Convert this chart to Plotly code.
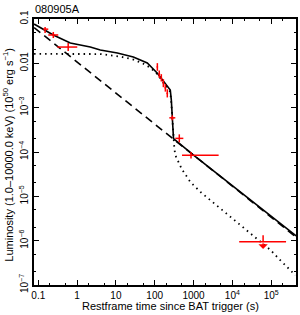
import numpy as np
import plotly.graph_objects as go

# ---- data ----
# model curves (time in s, luminosity in 1e50 erg/s)
solid_t = [0.078, 0.151, 0.244, 0.668, 2.19, 3.96, 10.9, 28.1, 64.4, 117, 187, 252, 268, 305, 1000, 1.0e4, 4.4e5]
solid_L = [0.077, 0.0565, 0.0436, 0.0287, 0.0233, 0.020, 0.0171, 0.0139, 0.0102, 0.0060, 0.00359, 0.00249, 0.00148, 2.0e-4, 8.5e-5, 1.77e-5, 1.28e-6]

dashed_t = [0.078, 4.4e5]
dashed_L = [0.064, 1.2e-6]

dotted_t = [0.078, 1.0, 4.0, 13, 28, 51, 77, 117, 187, 252, 268, 300, 320, 339, 500, 830, 1500, 3000,
            5430, 9800, 1.78e4, 3.24e4, 5.25e4, 9.5e4, 1.73e5, 2.8e5, 4.2e5]
dotted_L = [0.0163, 0.0165, 0.0162, 0.0142, 0.0122, 0.0098, 0.0080, 0.0057, 0.0033, 0.00227, 0.00126,
            2.5e-4, 1.23e-4, 8.5e-5, 4.1e-5, 2.1e-5, 1.26e-5, 7.6e-6, 4.9e-6, 3.2e-6, 2.04e-6, 1.33e-6,
            9.3e-7, 6.2e-7, 3.6e-7, 2.3e-7, 1.66e-7]

# data points
pt_t = [0.15, 0.244, 0.59, 117, 131, 148, 167, 188, 211, 284, 430, 861]
pt_tlo = [0.135, 0.181, 0.31, 112, 125, 141, 159, 179, 201, 238, 339, 505]
pt_thi = [0.181, 0.327, 1.01, 122, 138, 155, 175, 197, 221, 339, 546, 4436]
pt_L = [0.059, 0.0436, 0.0233, 0.0083, 0.0057, 0.0047, 0.0036, 0.0028, 0.0021, 5.9e-4, 2.03e-4, 8.5e-5]
pt_Llo = [0.0483, 0.0372, 0.019, 0.0068, 0.0047, 0.0039, 0.0029, 0.0023, 0.0017, 5.2e-4, 1.66e-4, 7.1e-5]
pt_Lhi = [0.066, 0.051, 0.0287, 0.0101, 0.0069, 0.0057, 0.0044, 0.0034, 0.0026, 6.7e-4, 2.5e-4, 1.0e-4]

# upper limit
ul_t = [6.2e4]
ul_tlo = [1.5e4]
ul_thi = [2.42e5]
ul_L = [9.4e-7]
ul_Ltop = [1.33e-6]
ul_Ltip = [6.5e-7]

xtick_vals = [0.1, 1, 10, 100, 1000, 1e4, 1e5]
xtick_text = ["0.1", "1", "10", "100", "1000", "10<sup>4</sup>", "10<sup>5</sup>"]
ytick_vals = [1e-7, 1e-6, 1e-5, 1e-4, 1e-3, 1e-2, 1e-1]
ytick_text = ["10<sup>−7</sup>", "10<sup>−6</sup>", "10<sup>−5</sup>", "10<sup>−4</sup>", "10<sup>−3</sup>", "0.01", "0.1"]

RED = "#ff0000"
FONT = "Liberation Sans, Arial, Helvetica, sans-serif"

fig = go.Figure()

fig.add_trace(go.Scatter(x=dashed_t, y=dashed_L, mode="lines",
                         line=dict(color="black", width=1.6, dash="8px,5px"), hoverinfo="skip"))
fig.add_trace(go.Scatter(x=dotted_t, y=dotted_L, mode="lines",
                         line=dict(color="black", width=1.8, dash="1.5px,4px"), hoverinfo="skip"))
fig.add_trace(go.Scatter(x=solid_t, y=solid_L, mode="lines",
                         line=dict(color="black", width=1.6), hoverinfo="skip"))

fig.add_trace(go.Scatter(
    x=pt_t, y=pt_L, mode="markers", marker=dict(size=1, color=RED),
    error_x=dict(type="data", symmetric=False,
                 array=[h - c for h, c in zip(pt_thi, pt_t)],
                 arrayminus=[c - l for l, c in zip(pt_tlo, pt_t)],
                 color=RED, thickness=1.5, width=0),
    error_y=dict(type="data", symmetric=False,
                 array=[h - c for h, c in zip(pt_Lhi, pt_L)],
                 arrayminus=[c - l for l, c in zip(pt_Llo, pt_L)],
                 color=RED, thickness=1.5, width=0),
    hoverinfo="skip"))

fig.add_trace(go.Scatter(
    x=ul_t, y=ul_L, mode="markers", marker=dict(size=1, color=RED),
    error_x=dict(type="data", symmetric=False,
                 array=[h - c for h, c in zip(ul_thi, ul_t)],
                 arrayminus=[c - l for l, c in zip(ul_tlo, ul_t)],
                 color=RED, thickness=1.5, width=0),
    error_y=dict(type="data", symmetric=False,
                 array=[h - c for h, c in zip(ul_Ltop, ul_L)],
                 arrayminus=[0 for _ in ul_L],
                 color=RED, thickness=1.5, width=0),
    hoverinfo="skip"))

for t, L, tip in zip(ul_t, ul_L, ul_Ltip):
    fig.add_annotation(x=np.log10(t), y=np.log10(tip), ax=np.log10(t), ay=np.log10(L),
                       xref="x", yref="y", axref="x", ayref="y", text="",
                       showarrow=True, arrowhead=1, arrowsize=1.2, arrowwidth=1.3,
                       arrowcolor=RED, standoff=0, startstandoff=0)

fig.add_annotation(text="080905A", xref="paper", yref="paper", x=0, y=1,
                   xanchor="left", yanchor="bottom", yshift=2, xshift=-1, showarrow=False,
                   font=dict(family=FONT, size=11, color="black"))
fig.add_annotation(text="Restframe time since BAT trigger (s)", xref="paper", yref="paper",
                   x=0.52, y=0, xanchor="center", yanchor="middle", yshift=-21, showarrow=False,
                   font=dict(family=FONT, size=11, color="black"))
fig.add_annotation(text="Luminosity (1.0–10000.0 keV) (10<sup>50</sup> erg s<sup>−1</sup>)",
                   xref="paper", yref="paper", x=0, y=0.49, xanchor="center", yanchor="middle",
                   xshift=-26, textangle=-90, showarrow=False,
                   font=dict(family=FONT, size=11, color="black"))

axis_common = dict(type="log", showline=True, linecolor="black", linewidth=1.5, mirror="allticks",
                   ticks="inside", ticklen=5, tickwidth=1, tickcolor="black", showgrid=False,
                   zeroline=False, automargin=False, tickfont=dict(family=FONT, size=10, color="black"),
                   minor=dict(ticks="inside", ticklen=2.5, tickwidth=1, tickcolor="black", showgrid=False))

fig.update_xaxes(**axis_common, range=[-1.11, 5.64], tickvals=xtick_vals, ticktext=xtick_text)
fig.update_yaxes(**axis_common, range=[-7, -1], tickvals=ytick_vals, ticktext=ytick_text, tickangle=-90)

fig.update_layout(width=300, height=315, margin=dict(l=34, r=4, t=19, b=30),
                  plot_bgcolor="white", paper_bgcolor="white", showlegend=False)

fig.write_html("out.html", config={"displayModeBar": False},
               post_script="document.body.style.margin='0px';document.body.style.padding='0px';"
                           "document.body.style.overflow='hidden';")
